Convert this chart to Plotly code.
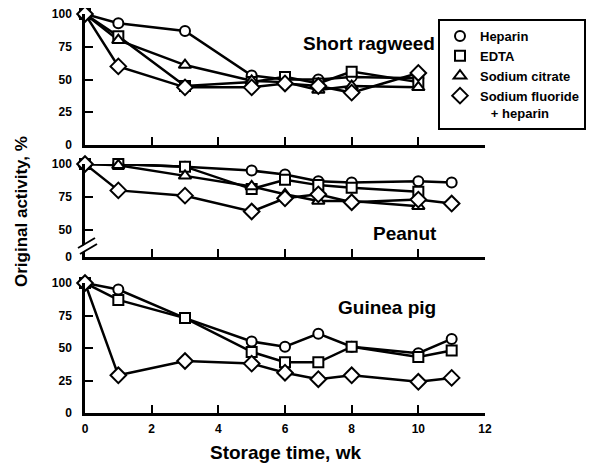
import plotly.graph_objects as go

# ---------------- data ----------------
weeks_rag = [0, 1, 3, 5, 6, 7, 8, 10]
rag_heparin = [100, 93, 87, 53, 50, 50, 52, 51]
rag_edta = [100, 83, 45, 48, 52, 47, 56, 48]
rag_citrate = [100, 80, 61, 49, 48, 42, 45, 44]
rag_fluoride = [100, 60, 44, 44, 47, 45, 40, 55]

weeks_pea_long = [0, 1, 3, 5, 6, 7, 8, 10, 11]
weeks_pea_short = [0, 1, 3, 5, 6, 7, 8, 10]
pea_heparin = [100, 100, 98, 95, 92, 87, 86, 87, 86]
pea_edta = [100, 100, 98, 81, 88, 84, 82, 79]
pea_citrate = [100, 99, 91, 83, 77, 72, 72, 68]
pea_fluoride = [100, 80, 76, 64, 74, 77, 71, 73, 70]

weeks_gp = [0, 1, 3, 5, 6, 7, 8, 10, 11]
gp_heparin = [100, 95, 73, 55, 51, 61, 51, 46, 57]
gp_edta = [100, 87, 73, 47, 39, 39, 51, 43, 48]
gp_fluoride = [100, 29, 40, 38, 31, 26, 29, 24, 27]

series_names = ["Heparin", "EDTA", "Sodium citrate", "Sodium fluoride<br>   + heparin"]
symbols = ["circle", "square", "triangle-up", "diamond"]
sizes = [10, 10, 11, 12]

x_ticks = [0, 2, 4, 6, 8, 10, 12]
y_ticks = [0, 25, 50, 75, 100]
pea_tickvals = [29.5, 50, 75, 100]
pea_ticktext = ["0", "50", "75", "100"]

panel_rag = [(weeks_rag, rag_heparin, 0), (weeks_rag, rag_edta, 1),
             (weeks_rag, rag_citrate, 2), (weeks_rag, rag_fluoride, 3)]
panel_pea = [(weeks_pea_long, pea_heparin, 0), (weeks_pea_short, pea_edta, 1),
             (weeks_pea_short, pea_citrate, 2), (weeks_pea_long, pea_fluoride, 3)]
panel_gp = [(weeks_gp, gp_heparin, 0), (weeks_gp, gp_edta, 1), (weeks_gp, gp_fluoride, 3)]

panels = [("x3", "y3", panel_rag, True), ("x2", "y2", panel_pea, False), ("x", "y", panel_gp, False)]

fig = go.Figure()
# lines first
for xa, ya, data, _ in panels:
    for xs, ys, k in data:
        fig.add_trace(go.Scatter(x=xs, y=ys, mode="lines", xaxis=xa, yaxis=ya,
                                 line=dict(color="black", width=2.5),
                                 showlegend=False, hoverinfo="skip", cliponaxis=False))
# markers on top
for xa, ya, data, leg in panels:
    for xs, ys, k in data:
        fig.add_trace(go.Scatter(x=xs, y=ys, mode="markers", xaxis=xa, yaxis=ya,
                                 name=series_names[k], showlegend=leg,
                                 marker=dict(symbol=symbols[k], size=sizes[k], color="white",
                                             line=dict(color="black", width=2)),
                                 cliponaxis=False))

axis_common = dict(showline=True, linecolor="black", linewidth=2.5, ticks="inside",
                   ticklen=8, tickwidth=2, tickcolor="black", showgrid=False,
                   zeroline=False, mirror=False, ticklabeloverflow="allow")
fontb = dict(family="Liberation Sans, Arial, sans-serif", size=12, color="black", weight="bold")

# page body has an 8px margin; screen plot area: x 85..485, y 14..413
H = 399.0
def dom(top_px, bot_px):
    return [(413 - bot_px) / H, (413 - top_px) / H]

fig.update_layout(
    width=586, height=455,
    margin=dict(l=77, r=109, t=6, b=50, autoexpand=False),
    paper_bgcolor="white", plot_bgcolor="white",
    font=fontb,
    xaxis=dict(domain=[0, 1], range=[0, 12], tickvals=x_ticks, anchor="y",
               tickfont=fontb, ticklabelstandoff=3, **axis_common),
    xaxis2=dict(domain=[0, 1], range=[0, 12], tickvals=x_ticks, anchor="y2",
                showticklabels=False, **axis_common),
    xaxis3=dict(domain=[0, 1], range=[0, 12], tickvals=x_ticks, anchor="y3",
                showticklabels=False, **axis_common),
    yaxis=dict(domain=dom(283, 413), range=[0, 100], tickvals=y_ticks, anchor="x",
               tickfont=fontb, ticklabelstandoff=8, **axis_common),
    yaxis2=dict(domain=dom(164, 257), range=[29.5, 100], tickvals=pea_tickvals,
                ticktext=pea_ticktext, anchor="x2", tickfont=fontb, ticklabelstandoff=8,
                **axis_common),
    yaxis3=dict(domain=dom(14, 145), range=[0, 100], tickvals=y_ticks, anchor="x3",
                tickfont=fontb, ticklabelstandoff=8, **axis_common),
    legend=dict(x=(438 - 85) / 400, y=(413 - 19) / H, xanchor="left", yanchor="top",
                bordercolor="black", borderwidth=2, bgcolor="white",
                font=dict(family="Liberation Sans, Arial, sans-serif", size=13,
                          color="black", weight="bold"),
                itemwidth=30, tracegroupgap=0, valign="top"),
)

title_font = dict(family="Liberation Sans, Arial, sans-serif", size=19, color="black", weight="bold")
ann = [
    dict(text="Short ragweed", x=(369 - 85) / 400, y=(413 - 43) / H),
    dict(text="Peanut", x=(405 - 85) / 400, y=(413 - 233) / H),
    dict(text="Guinea pig", x=(387 - 85) / 400, y=(413 - 307) / H),
    dict(text="Storage time, wk", x=(285 - 85) / 400, y=(413 - 452) / H),
]
for a in ann:
    fig.add_annotation(xref="paper", yref="paper", showarrow=False,
                       xanchor="center", yanchor="middle", font=title_font, **a)
fig.add_annotation(xref="paper", yref="paper", showarrow=False, xanchor="center",
                   yanchor="middle", text="Original activity, %", textangle=-90,
                   x=(21 - 85) / 400, y=(413 - 212) / H,
                   font=dict(family="Liberation Sans, Arial, sans-serif", size=17,
                             color="black", weight="bold"))

# axis break marks on the peanut panel
def px(xp):
    return (xp - 85) / 400
def py(yp):
    return (413 - yp) / H
fig.add_shape(type="path", xref="paper", yref="paper", layer="above",
              path=f"M {px(79)},{py(248)} L {px(95)},{py(239)} L {px(97)},{py(244)} L {px(81)},{py(253)} Z",
              fillcolor="white", line=dict(width=0))
fig.add_shape(type="line", xref="paper", yref="paper", layer="above",
              x0=px(78), y0=py(248), x1=px(95), y1=py(238), line=dict(color="black", width=2))
fig.add_shape(type="line", xref="paper", yref="paper", layer="above",
              x0=px(80), y0=py(254), x1=px(97), y1=py(244), line=dict(color="black", width=2))

fig.write_html("out.html")
